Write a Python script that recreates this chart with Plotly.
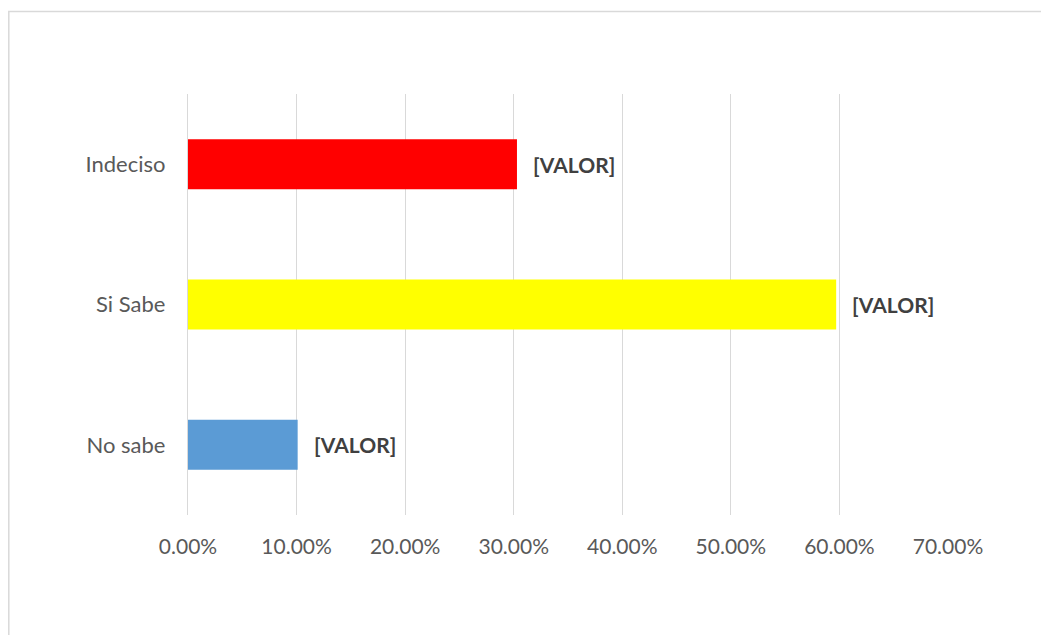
import plotly.graph_objects as go

categories = ["No sabe", "Si Sabe", "Indeciso"]
values = [0.101, 0.597, 0.303]
colors = ["#5B9BD5", "#FFFF00", "#FF0000"]
label_text = ["[VALOR]", "[VALOR]", "[VALOR]"]
tick_vals = [0, 0.1, 0.2, 0.3, 0.4, 0.5, 0.6, 0.7]
tick_text = ["0.00%", "10.00%", "20.00%", "30.00%", "40.00%", "50.00%", "60.00%", "70.00%"]

FONT = "Lato"
W, H = 1041, 627
ML, MR, MT, MB = 180, 101, 86, 120
PW = W - ML - MR
PH = H - MT - MB

fig = go.Figure()
fig.add_trace(go.Bar(
    x=values, y=categories, orientation="h",
    marker=dict(color=colors, line=dict(width=0)),
    hoverinfo="skip",
))

for c, v, t in zip(categories, values, label_text):
    fig.add_annotation(
        x=v, y=c, text="<b>" + t + "</b>", showarrow=False,
        xanchor="left", yanchor="middle", xshift=14,
        font=dict(family=FONT, size=21, color="#404040"),
    )

# outer chart border (light gray), right/bottom edges lie outside the image
fig.add_shape(
    type="rect", xref="paper", yref="paper",
    x0=(0.8 - ML) / PW, x1=2.0, y0=-1.0, y1=(PH + MT - 3.5) / PH,
    line=dict(color="#D9D9D9", width=1.5), fillcolor="rgba(0,0,0,0)",
    layer="below",
)

fig.update_layout(
    width=W, height=H,
    margin=dict(l=ML, r=MR, t=MT, b=MB),
    paper_bgcolor="white", plot_bgcolor="white",
    showlegend=False,
    bargap=0.644,
    font=dict(family=FONT, size=21, color="#595959"),
    xaxis=dict(
        range=[0, 0.7], tickvals=tick_vals, ticktext=tick_text,
        showgrid=True, gridcolor="#D9D9D9", gridwidth=1.3,
        zeroline=False, showline=False, ticks="",
        ticklabelstandoff=17,
        tickfont=dict(family=FONT, size=21, color="#595959"),
        fixedrange=True,
    ),
    yaxis=dict(
        categoryorder="array", categoryarray=categories,
        showgrid=False, zeroline=False,
        showline=True, linecolor="#D9D9D9", linewidth=1.3,
        ticks="",
        ticklabelstandoff=17,
        tickfont=dict(family=FONT, size=22, color="#595959"),
        fixedrange=True,
    ),
)

fig.write_html("out.html")
